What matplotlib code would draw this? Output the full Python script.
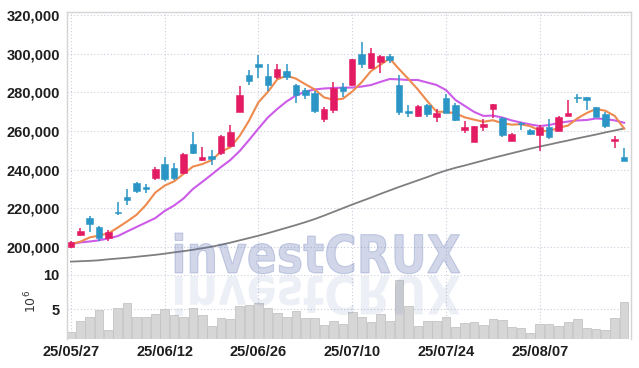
import matplotlib
matplotlib.use('Agg')
import matplotlib.pyplot as plt
from matplotlib.textpath import TextPath
from matplotlib.patches import PathPatch
from matplotlib.font_manager import FontProperties
from matplotlib.transforms import Affine2D
import matplotlib.ticker as mticker

# ---------------- data ----------------
opens = [200000, 206300, 215050, 210400, 204900, 218300, 225900, 233300, 231100, 235900,
         243000, 240800, 238200, 253300, 245000, 247100, 248800, 252300, 270000, 289000,
         294700, 288500, 288100, 291200, 283800, 281200, 279500, 266100, 270900, 282900,
         283800, 299800, 292400, 295900, 298800, 283800, 270400, 267800, 273500, 267400,
         276900, 273500, 260600, 254500, 262300, 271300, 266600, 255000, 264300, 260600,
         258100, 262300, 260200, 267800, 277800, 277500, 272300, 268700, 254700, 246400]
highs = [203000, 209900, 216000, 210900, 208800, 223500, 229900, 233900, 232600, 241300,
         246400, 243300, 248700, 259700, 251900, 250200, 258000, 263100, 283300, 291600,
         299300, 294700, 294700, 294700, 284300, 282400, 280700, 272300, 285200, 284700,
         297400, 306200, 302800, 299300, 299800, 289000, 273500, 273500, 274000, 271300,
         279000, 274700, 265400, 262600, 266100, 274000, 267300, 259200, 264800, 261100,
         263100, 266100, 267800, 276100, 279000, 277600, 272600, 270000, 257400, 251100]
lows = [199500, 205700, 207800, 203200, 203300, 216400, 221800, 228000, 227800, 234900,
        234200, 234700, 237800, 248000, 244700, 242500, 247600, 251800, 269700, 283800,
        287300, 280900, 286800, 286400, 274400, 276600, 269200, 264800, 269500, 277800,
        283300, 292400, 292100, 290200, 295000, 268300, 267100, 267100, 267100, 264800,
        269300, 265400, 259200, 254300, 260200, 266600, 257100, 254700, 260600, 258000,
        249800, 256100, 260000, 267800, 274400, 270900, 267300, 261400, 251100, 244700]
closes = [202500, 208300, 211950, 204700, 208000, 217500, 224400, 229200, 230000, 240200,
          235200, 235600, 248100, 248800, 246700, 245400, 257400, 259500, 278600, 286000,
          293000, 283800, 291900, 288100, 278600, 278500, 270500, 271400, 282100, 280900,
          297100, 294500, 300200, 298800, 296700, 269700, 269200, 273000, 268800, 269200,
          269500, 265700, 262300, 262600, 263700, 273800, 258000, 258500, 263700, 258500,
          262300, 256800, 267100, 269200, 277200, 276100, 267400, 262600, 255700, 244700]
ma5 = [201600, 202800, 205000, 206000, 207100, 210100, 213300, 216700, 221800, 228200,
       231800, 234000, 237800, 241600, 242900, 244900, 249300, 251600, 257500, 265400,
       274900, 280200, 286700, 288600, 287100, 284200, 281500, 277400, 276200, 276700,
       280400, 285200, 291000, 294300, 297500, 292000, 286900, 281500, 275500, 270000,
       269900, 269200, 267100, 265900, 264800, 265600, 264100, 263300, 263500, 262500,
       260200, 259900, 261700, 262800, 266500, 269300, 271400, 270500, 267800, 261300]
ma20 = [201500, 202400, 202900, 203500, 204500, 205700, 208100, 210400, 212700, 215000,
        218700, 221500, 225100, 230000, 233700, 237500, 241400, 245000, 249700, 255400,
        261300, 267000, 271400, 275300, 278400, 280400, 281500, 282000, 282300, 282400,
        282500, 283000, 283800, 285400, 286900, 286700, 286400, 286400, 285100, 283800,
        281200, 276100, 273000, 269900, 267800, 268000, 267000, 265500, 264400, 263400,
        262600, 263100, 264200, 264900, 265500, 265700, 266500, 266200, 265500, 264300]
ma_long = [192500, 192700, 192900, 193200, 193700, 194100, 194500, 195000, 195500, 196000,
           196600, 197300, 197900, 198600, 199400, 200200, 201200, 202300, 203500, 204700,
           205900, 207200, 208600, 210000, 211400, 212900, 214500, 216300, 218200, 220100,
           222000, 223800, 225600, 227500, 229300, 231100, 232800, 234500, 236200, 238000,
           239600, 241000, 242200, 243500, 244800, 246100, 247300, 248500, 249700, 250900,
           252000, 253000, 254100, 255100, 256200, 257200, 258200, 259300, 260300, 261300]
volume_m = [1.65, 3.29, 3.92, 4.90, 1.94, 5.14, 5.87, 3.83, 3.83, 4.27,
            5.00, 4.17, 3.83, 5.14, 4.17, 2.52, 3.69, 3.54, 5.44, 5.58,
            5.87, 5.14, 4.42, 3.83, 4.75, 3.69, 3.69, 2.71, 3.29, 2.86,
            4.60, 3.83, 3.15, 4.27, 3.29, 9.27, 5.48, 2.57, 3.29, 3.29,
            3.83, 2.38, 3.00, 3.15, 2.71, 3.59, 3.44, 2.38, 2.23, 1.55,
            2.86, 2.86, 2.57, 3.15, 3.59, 2.27, 2.13, 1.98, 3.73, 6.06]
date_tick_index = [0, 10, 20, 30, 40, 50]
date_tick_labels = ['25/05/27', '25/06/12', '25/06/26', '25/07/10', '25/07/24', '25/08/07']
price_ticks = [200000, 220000, 240000, 260000, 280000, 300000, 320000]
volume_ticks = [5, 10]

# ---------------- style ----------------
UP = '#e31b63'
DOWN = '#2b95c6'
GRID = '#c9cede'
TXT = '#1e1e1e'
FONT = ['Liberation Sans Narrow', 'Liberation Sans', 'DejaVu Sans']
plt.rcParams['font.family'] = FONT
plt.rcParams['mathtext.fontset'] = 'dejavusans'

W, H = 639, 368
fig = plt.figure(figsize=(W / 100, H / 100), dpi=100)
fig.patch.set_facecolor('white')

L, R = 66.7 / W, 630.7 / W
ax = fig.add_axes([L, 1 - 275 / H, R - L, (275 - 11.7) / H])
axv = fig.add_axes([L, 1 - 339.3 / H, R - L, (339.3 - 275) / H], sharex=ax)

n = len(closes)
idx = list(range(n))

# candles
for i in idx:
    o, h, l, c = opens[i], highs[i], lows[i], closes[i]
    col = UP if c >= o else DOWN
    ax.vlines(i, l, h, color=col, linewidth=1.1, zorder=3)
    body = max(abs(c - o), 500)
    ax.bar(i, body, bottom=min(o, c), width=0.7, color=col, edgecolor=col,
           linewidth=0.4, zorder=4)

ax.plot(idx, ma_long, color='#7f7f7f', linewidth=1.3, zorder=2)
ax.plot(idx, ma20, color='#cc5ce8', linewidth=1.5, zorder=2)
ax.plot(idx, ma5, color='#ee8a4e', linewidth=1.5, zorder=2)

ax.set_xlim(-0.45, 59.7)
ax.set_ylim(185580, 321700)
ax.set_yticks(price_ticks)
ax.yaxis.set_major_formatter(mticker.FuncFormatter(lambda v, p: f'{int(v):,}'))
ax.set_xticks(date_tick_index)
ax.tick_params(axis='x', labelbottom=False, length=0)
ax.tick_params(axis='y', length=0, pad=5, labelsize=10.5, labelcolor=TXT)
ax.grid(True, color=GRID, linestyle=(0, (1, 2)), linewidth=0.8)
ax.set_axisbelow(True)
ax.spines['bottom'].set_visible(False)
for s in ['left', 'right', 'top']:
    ax.spines[s].set_color('#d4d4d4')
    ax.spines[s].set_linewidth(1.0)

# volume
axv.bar(idx, volume_m, width=0.92, color='#d6d6d6', edgecolor='#c4c4c4', linewidth=0.6, zorder=2)
axv.set_ylim(0.63, 10)
axv.set_yticks(volume_ticks)
axv.set_yticklabels([str(v) for v in volume_ticks])
axv.set_xticks(date_tick_index)
axv.set_xticklabels(date_tick_labels)
axv.tick_params(axis='x', length=0, pad=4, labelsize=10.5, labelcolor=TXT)
axv.tick_params(axis='y', length=0, pad=5, labelsize=10.5, labelcolor=TXT)
axv.grid(True, color=GRID, linestyle=(0, (1, 2)), linewidth=0.8)
axv.set_axisbelow(True)
for s in ['top', 'bottom']:
    axv.spines[s].set_visible(False)
for s in ['left', 'right']:
    axv.spines[s].set_color('#d4d4d4')
    axv.spines[s].set_linewidth(1.0)

for lab in ax.get_yticklabels() + axv.get_yticklabels() + axv.get_xticklabels():
    lab.set_fontweight('bold')

# volume unit label (10^6), rotated
fig.text(31 / W, 1 - 301 / H, r'$\mathregular{10^6}$', rotation=90, ha='center', va='center',
         fontsize=9, color='#333333', family='DejaVu Sans')

# watermark with reflection
fp = FontProperties(family='DejaVu Sans', weight='bold')
tp = TextPath((0, 0), 'investCRUX', size=50, prop=fp)
ext = tp.get_extents()
x0, x1 = 175, 460
top_img, base_img = 233, 273
sx = (x1 - x0) / ext.width
sy = (base_img - top_img) / ext.y1
t_main = Affine2D().translate(-ext.x0, 0).scale(sx, sy).translate(x0, H - base_img)
fig.add_artist(PathPatch(tp, transform=t_main, facecolor='#5b6fb0', edgecolor='#5b6fb0',
                         linewidth=0.8, alpha=0.28, zorder=10))
t_ref = Affine2D().translate(-ext.x0, 0).scale(sx, -sy).translate(x0, H - 276)
fig.add_artist(PathPatch(tp, transform=t_ref, facecolor='#5b6fb0', edgecolor='none',
                         alpha=0.11, zorder=10))

fig.savefig('out.png', dpi=100, facecolor='white')
